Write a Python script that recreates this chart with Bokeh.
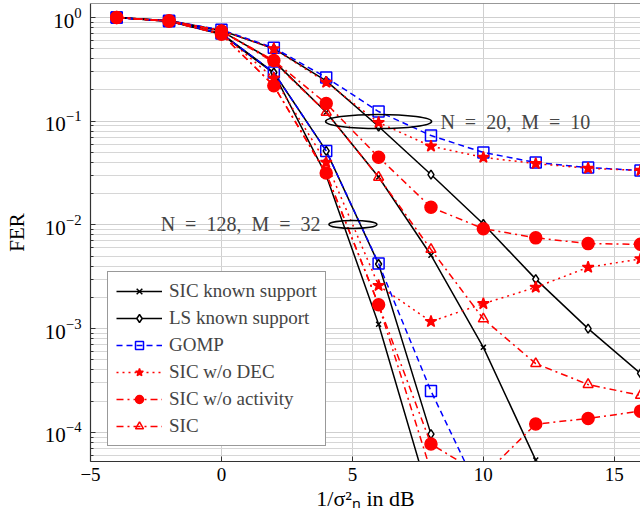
from bokeh.plotting import figure
from bokeh.models import Range1d, Legend, LegendItem, Label, Span, FixedTicker, LogTickFormatter
from bokeh.embed import file_html
from bokeh.resources import INLINE

snr_db = [-4, -2, 0, 2, 4, 6, 8, 10, 12, 14, 16]
x_ticks = [-5, 0, 5, 10, 15]
y_ticks = [1e-4, 1e-3, 1e-2, 1e-1, 1.0]

# N = 20, M = 10
sic_known_20 = [1.0, 0.93, 0.74, 0.38, 0.122, 0.029, 0.0051, 0.00066, 5.4e-5]
ls_known_20 = [1.0, 0.93, 0.75, 0.50, 0.245, 0.089, 0.0306, 0.0102, 0.0030, 0.00100, 0.00037]
gomp_20 = [1.0, 0.93, 0.76, 0.51, 0.264, 0.124, 0.0727, 0.050, 0.040, 0.0357, 0.0335]
wo_dec_20 = [1.0, 0.93, 0.75, 0.50, 0.237, 0.097, 0.0574, 0.0448, 0.039, 0.0352, 0.0335]
wo_act_20 = [1.0, 0.93, 0.74, 0.385, 0.148, 0.045, 0.0148, 0.0092, 0.0075, 0.0066, 0.0065]
sic_20 = [1.0, 0.93, 0.74, 0.37, 0.122, 0.0288, 0.0058, 0.00124, 0.00046, 0.000289, 0.000227]

# N = 128, M = 32
sic_known_128 = [1.0, 0.92, 0.69, 0.29, 0.030, 0.0011, 2.1e-5]
ls_known_128 = [1.0, 0.92, 0.70, 0.295, 0.0517, 0.0042, 9.6e-5]
gomp_128 = [1.0, 0.92, 0.70, 0.295, 0.0517, 0.00425, 0.00025, 2.2e-5]
wo_dec_128 = [1.0, 0.92, 0.70, 0.26, 0.040, 0.0026, 0.00117, 0.00174, 0.0025, 0.0039, 0.0047]
wo_act_128 = [1.0, 0.92, 0.69, 0.22, 0.0316, 0.0017, 7.7e-5, 3.8e-5, 1.2e-4, 1.36e-4, 1.6e-4]
sic_128 = [1.0, 0.92, 0.69, 0.22, 0.031, 0.0017, 4.2e-5]

labels = ["SIC known support", "LS known support", "GOMP", "SIC w/o DEC", "SIC w/o activity", "SIC"]

FONT = "Liberation Serif"
RED = "#ff0000"
BLUE = "#0000ff"
Y_TOP = 1.365
Y_BOTTOM = 5.23e-5

p = figure(frame_width=550, frame_height=458,
           x_range=Range1d(-5, 16.0), y_range=Range1d(Y_BOTTOM, Y_TOP),
           y_axis_type="log", output_backend="svg", toolbar_location=None,
           min_border_left=90, min_border_right=0, min_border_top=3, min_border_bottom=55)
p.outline_line_color = None
p.background_fill_color = "white"
p.border_fill_color = "white"

minor = [m * 10.0 ** e for e in range(-5, 1) for m in range(2, 10)]
p.yaxis.ticker = FixedTicker(ticks=y_ticks, minor_ticks=minor)
p.yaxis.formatter = LogTickFormatter()
p.xaxis.ticker = FixedTicker(ticks=x_ticks)
p.xgrid.ticker = FixedTicker(ticks=x_ticks)
p.ygrid.ticker = FixedTicker(ticks=y_ticks, minor_ticks=minor)

for g in (p.xgrid, p.ygrid):
    g.grid_line_color = "#cfcfcf"
    g.grid_line_width = 1
p.ygrid.minor_grid_line_color = "#d6d6d6"
p.ygrid.minor_grid_line_width = 1

for ax in (p.xaxis, p.yaxis):
    ax.axis_line_color = "#333333"
    ax.axis_line_width = 1.2
    ax.major_tick_in = 5
    ax.major_tick_out = 0
    ax.major_tick_line_color = "#333333"
    ax.minor_tick_in = 3
    ax.minor_tick_out = 0
    ax.minor_tick_line_color = "#333333"
    ax.major_label_text_font = FONT
    ax.major_label_text_color = "black"
    ax.axis_label_text_font = FONT
    ax.axis_label_text_font_style = "normal"
    ax.axis_label_text_color = "black"
p.xaxis.major_label_text_font_size = "19px"
p.yaxis.major_label_text_font_size = "21px"
p.xaxis.minor_tick_line_color = None
p.xaxis.major_label_standoff = 6
p.yaxis.major_label_standoff = 9
p.xaxis.axis_label = "1/σ²ₙ in dB"
p.yaxis.axis_label = "FER"
p.xaxis.axis_label_text_font_size = "22px"
p.yaxis.axis_label_text_font_size = "21px"
p.xaxis.axis_label_standoff = 2
p.yaxis.axis_label_standoff = 13

p.add_layout(Span(location=Y_TOP, dimension="width", line_color="#333333", line_width=1.2))

styles = [
    dict(color="black", dash="solid", marker="x", size=7, fill=None),
    dict(color="black", dash="solid", marker="diamond", size=9, fill="white"),
    dict(color=BLUE, dash="6 4", marker="square", size=11, fill=None),
    dict(color=RED, dash="2 4", marker="star", size=12, fill=RED),
    dict(color=RED, dash="7 4 2 4", marker="circle", size=12, fill=RED),
    dict(color=RED, dash="7 4 2 4", marker="triangle", size=10, fill=None),
]
series = [
    (sic_known_128, sic_known_20),
    (ls_known_128, ls_known_20),
    (gomp_128, gomp_20),
    (wo_dec_128, wo_dec_20),
    (wo_act_128, wo_act_20),
    (sic_128, sic_20),
]

items = []
for lab, st, pair in zip(labels, styles, series):
    rends = []
    for ys in pair:
        xs = snr_db[:len(ys)]
        lr = p.line(xs, ys, line_color=st["color"], line_width=1.5, line_dash=st["dash"])
        sr = p.scatter(xs, ys, marker=st["marker"], size=st["size"], line_color=st["color"],
                       line_width=1.5, fill_color=st["fill"])
        rends.append((lr, sr))
    items.append(LegendItem(label=lab, renderers=[rends[0][0], rends[0][1]]))

legend = Legend(items=items, location=(17, 15), orientation="vertical")
legend.label_text_font = FONT
legend.label_text_font_size = "19px"
legend.glyph_width = 46
legend.glyph_height = 20
legend.label_height = 20
legend.spacing = 5
legend.padding = 8
legend.margin = 0
legend.label_standoff = 7
legend.border_line_color = "#333333"
legend.border_line_width = 1
legend.background_fill_alpha = 1.0
p.add_layout(legend)

# annotations for the two system sizes
p.ellipse(x=[6.0], y=[0.0993], width=106, height=14, width_units="screen", height_units="screen",
          fill_color=None, line_color="black", line_width=1.6)
p.ellipse(x=[5.02], y=[0.0101], width=48, height=8, width_units="screen", height_units="screen",
          fill_color=None, line_color="black", line_width=1.6)
p.add_layout(Label(x=8.36, y=0.0993, text="N\u2002=\u200220,\u2002M\u2002=\u200210", text_font=FONT,
                   text_font_size="20px", text_baseline="middle", text_align="left"))
p.add_layout(Label(x=3.78, y=0.0101, text="N\u2002=\u2002128,\u2002M\u2002=\u200232", text_font=FONT,
                   text_font_size="20px", text_baseline="middle", text_align="right"))

open("out.html", "w").write(file_html(p, INLINE))
